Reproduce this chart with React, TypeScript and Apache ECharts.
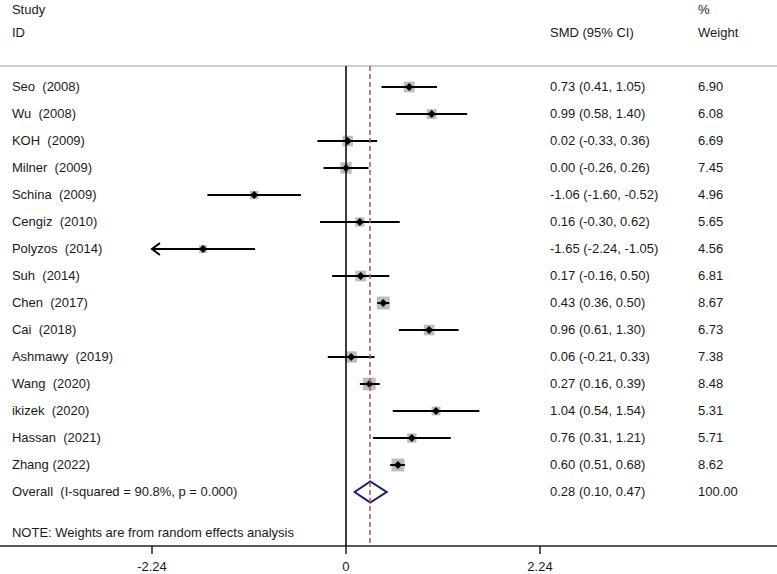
import React, { useEffect, useRef } from "react";
import * as echarts from "echarts";

const studies = [
  "Seo  (2008)", "Wu  (2008)", "KOH  (2009)", "Milner  (2009)", "Schina  (2009)",
  "Cengiz  (2010)", "Polyzos  (2014)", "Suh  (2014)", "Chen  (2017)", "Cai  (2018)",
  "Ashmawy  (2019)", "Wang  (2020)", "ikizek  (2020)", "Hassan  (2021)", "Zhang (2022)",
];
const smd = [0.73, 0.99, 0.02, 0.0, -1.06, 0.16, -1.65, 0.17, 0.43, 0.96, 0.06, 0.27, 1.04, 0.76, 0.6];
const ciLow = [0.41, 0.58, -0.33, -0.26, -1.6, -0.3, -2.24, -0.16, 0.36, 0.61, -0.21, 0.16, 0.54, 0.31, 0.51];
const ciHigh = [1.05, 1.4, 0.36, 0.26, -0.52, 0.62, -1.05, 0.5, 0.5, 1.3, 0.33, 0.39, 1.54, 1.21, 0.68];
const weights = [6.9, 6.08, 6.69, 7.45, 4.96, 5.65, 4.56, 6.81, 8.67, 6.73, 7.38, 8.48, 5.31, 5.71, 8.62];
const overall = { label: "Overall  (I-squared = 90.8%, p = 0.000)", est: 0.28, lo: 0.1, hi: 0.47, weight: 100.0 };
const tickValues = [-2.24, 0, 2.24];
const clipMin = -2.24;
const noteText = "NOTE: Weights are from random effects analysis";

const fmt2 = (v: number) => v.toFixed(2);
const ciText = (e: number, l: number, h: number) => `${fmt2(e)} (${fmt2(l)}, ${fmt2(h)})`;

export default function App() {
  const ref = useRef<HTMLDivElement>(null);
  useEffect(() => {
    if (!ref.current) return;
    const chart = echarts.init(ref.current, undefined, { renderer: "svg" });
    const FONT = "13px 'Liberation Sans', Arial, sans-serif";
    const TXT = "#1a1a1a";
    const colName = -3.857;
    const colSmd = 2.356;
    const colW = 4.065;
    const sepRow = -0.78;
    const axisRow = 17;
    const xMin = -3.995;
    const xMax = 4.977;
    const overallRow = studies.length;

    const texts: { x: number; row: number; text: string }[] = [];
    texts.push({ x: colName, row: -2.88, text: "Study" });
    texts.push({ x: colName, row: -2, text: "ID" });
    texts.push({ x: colSmd, row: -2, text: "SMD (95% CI)" });
    texts.push({ x: colW, row: -2.88, text: "%" });
    texts.push({ x: colW, row: -2, text: "Weight" });
    studies.forEach((s, i) => {
      texts.push({ x: colName, row: i, text: s });
      texts.push({ x: colSmd, row: i, text: ciText(smd[i], ciLow[i], ciHigh[i]) });
      texts.push({ x: colW, row: i, text: fmt2(weights[i]) });
    });
    texts.push({ x: colName, row: overallRow, text: overall.label });
    texts.push({ x: colSmd, row: overallRow, text: ciText(overall.est, overall.lo, overall.hi) });
    texts.push({ x: colW, row: overallRow, text: fmt2(overall.weight) });
    texts.push({ x: colName, row: 16.5, text: noteText });

    const studyData = studies.map((_, i) => [smd[i], ciLow[i], ciHigh[i], weights[i], i]);

    chart.setOption({
      animation: false,
      grid: { left: 0, right: 0, top: 0, bottom: 28 },
      xAxis: {
        type: "value",
        min: xMin,
        max: xMax,
        position: "bottom",
        splitLine: { show: false },
        axisLine: { show: true, onZero: false, lineStyle: { color: "#222", width: 1.5 } },
        axisTick: { show: true, customValues: tickValues, length: 8, lineStyle: { color: "#222", width: 1.5 } },
        axisLabel: {
          show: true,
          customValues: tickValues,
          margin: 14,
          color: TXT,
          fontSize: 13,
          fontFamily: "'Liberation Sans', Arial, sans-serif",
          formatter: (v: number) => (v === 0 ? "0" : v.toFixed(2)),
        },
      },
      yAxis: { type: "value", inverse: true, min: -3.222, max: axisRow, show: false },
      series: [
        {
          type: "line",
          data: [],
          silent: true,
          markLine: {
            silent: true,
            symbol: "none",
            label: { show: false },
            data: [
              [
                { coord: [xMin, sepRow], lineStyle: { color: "#bfbfbf", width: 1.5, type: "solid" } },
                { coord: [xMax, sepRow] },
              ],
              [
                { coord: [0, sepRow], lineStyle: { color: "#000", width: 1.5, type: "solid" } },
                { coord: [0, axisRow] },
              ],
              [
                { coord: [overall.est, sepRow], lineStyle: { color: "#b05454", width: 1.5, type: [5, 3] } },
                { coord: [overall.est, axisRow] },
              ],
            ],
          },
        },
        {
          type: "custom",
          clip: false,
          data: studyData,
          renderItem: (params: any, api: any) => {
            const est = api.value(0);
            const lo = api.value(1);
            const hi = api.value(2);
            const w = api.value(3);
            const row = api.value(4);
            const loC = Math.max(lo, clipMin);
            const pE = api.coord([est, row]);
            const pL = api.coord([loC, row]);
            const pH = api.coord([hi, row]);
            const s = 1.2 * w + 2.5;
            const d = 4;
            const children: any[] = [
              { type: "rect", shape: { x: pE[0] - s / 2, y: pE[1] - s / 2, width: s, height: s }, style: { fill: "#bdbdbd" } },
              { type: "line", shape: { x1: pL[0], y1: pL[1], x2: pH[0], y2: pH[1] }, style: { stroke: "#000", lineWidth: 2 } },
              {
                type: "polygon",
                shape: { points: [[pE[0] - d, pE[1]], [pE[0], pE[1] - d], [pE[0] + d, pE[1]], [pE[0], pE[1] + d]] },
                style: { fill: "#000" },
              },
            ];
            if (lo <= clipMin) {
              children.push({
                type: "polyline",
                shape: { points: [[pL[0] + 8, pL[1] - 6], [pL[0], pL[1]], [pL[0] + 8, pL[1] + 6]] },
                style: { stroke: "#000", fill: null, lineWidth: 2 },
              });
            }
            return { type: "group", children };
          },
        },
        {
          type: "custom",
          clip: false,
          data: [[overall.est, overall.lo, overall.hi, overallRow]],
          renderItem: (params: any, api: any) => {
            const row = api.value(3);
            const pE = api.coord([api.value(0), row]);
            const pL = api.coord([api.value(1), row]);
            const pH = api.coord([api.value(2), row]);
            const h = 10.5;
            return {
              type: "polygon",
              shape: { points: [[pL[0], pL[1]], [pE[0], pE[1] - h], [pH[0], pH[1]], [pE[0], pE[1] + h]] },
              style: { stroke: "#1c1c6e", fill: null, lineWidth: 2 },
            };
          },
        },
        {
          type: "custom",
          clip: false,
          data: texts.map((t) => [t.x, t.row]),
          renderItem: (params: any, api: any) => {
            const p = api.coord([api.value(0), api.value(1)]);
            return {
              type: "text",
              x: p[0],
              y: p[1],
              style: {
                text: texts[params.dataIndex].text,
                font: FONT,
                fill: TXT,
                textAlign: "left",
                textVerticalAlign: "middle",
              },
            };
          },
        },
      ],
    });
    return () => chart.dispose();
  }, []);
  return (
    <div
      ref={ref}
      style={{ position: "fixed", left: 0, top: 0, width: 777, height: 574, background: "#fff" }}
    />
  );
}
